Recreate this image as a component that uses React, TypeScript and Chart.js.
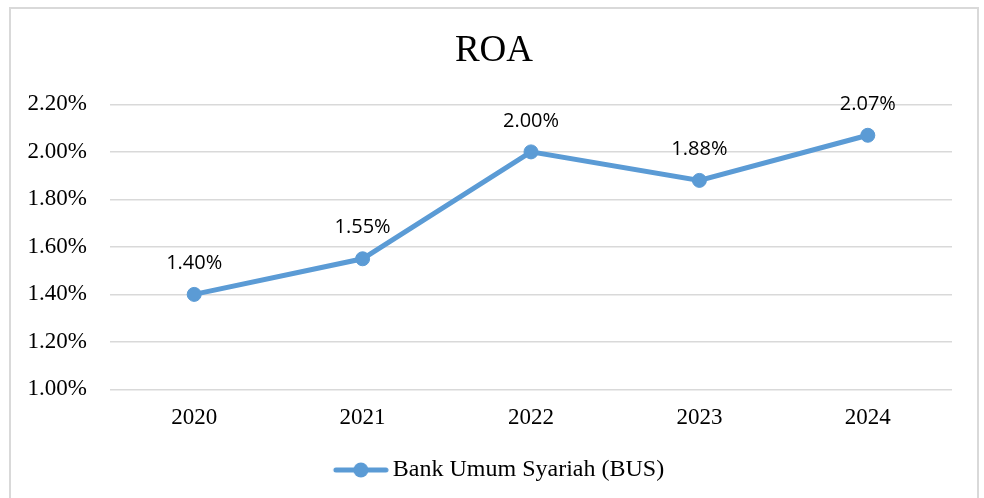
import React, { useEffect, useRef } from "react";
import { Chart, registerables } from "chart.js";

Chart.register(...registerables);

const categories = ["2020", "2021", "2022", "2023", "2024"];
const roaValues = [1.4, 1.55, 2.0, 1.88, 2.07];
const seriesName = "Bank Umum Syariah (BUS)";
const chartTitle = "ROA";
const yMin = 1.0;
const yMax = 2.2;
const yStep = 0.2;

const BLUE = "#5b9bd5";
const GRID = "#d9d9d9";
const SERIF = "'Liberation Serif', 'Times New Roman', serif";
const SANS = "'Open Sans', 'Liberation Sans', sans-serif";

function makeLegendMarker(): HTMLCanvasElement {
  const c = document.createElement("canvas");
  c.width = 73;
  c.height = 16;
  const ctx = c.getContext("2d")!;
  ctx.strokeStyle = BLUE;
  ctx.lineWidth = 5;
  ctx.lineCap = "round";
  ctx.beginPath();
  ctx.moveTo(20, 8);
  ctx.lineTo(70, 8);
  ctx.stroke();
  ctx.fillStyle = BLUE;
  ctx.beginPath();
  ctx.arc(45, 8, 7.5, 0, Math.PI * 2);
  ctx.fill();
  return c;
}

const borderPlugin = {
  id: "outerBorder",
  beforeDraw(chart: any) {
    const ctx = chart.ctx;
    ctx.save();
    ctx.fillStyle = "#ffffff";
    ctx.fillRect(0, 0, chart.width, chart.height);
    ctx.strokeStyle = GRID;
    ctx.lineWidth = 2;
    ctx.strokeRect(10, 8, 968, 510);
    ctx.restore();
  },
};

const dataLabelPlugin = {
  id: "pointLabels",
  afterDatasetsDraw(chart: any) {
    const ctx = chart.ctx;
    const meta = chart.getDatasetMeta(0);
    ctx.save();
    ctx.font = `20px ${SANS}`;
    ctx.fillStyle = "#000000";
    ctx.textAlign = "center";
    ctx.textBaseline = "middle";
    meta.data.forEach((pt: any, i: number) => {
      const v = roaValues[i];
      ctx.fillText(v.toFixed(2) + "%", pt.x, pt.y - 31);
    });
    ctx.restore();
  },
};

export default function App() {
  const ref = useRef<HTMLCanvasElement | null>(null);
  useEffect(() => {
    if (!ref.current) return;
    const marker = makeLegendMarker();
    const chart = new Chart(ref.current, {
      type: "line",
      data: {
        labels: categories,
        datasets: [
          {
            label: seriesName,
            data: roaValues,
            borderColor: BLUE,
            backgroundColor: BLUE,
            borderWidth: 5,
            pointRadius: 7,
            pointBorderWidth: 1,
            pointBackgroundColor: BLUE,
            pointBorderColor: BLUE,
            tension: 0,
            yAxisID: "y",
          },
        ],
      },
      options: {
        animation: false,
        responsive: false,
        maintainAspectRatio: false,
        layout: { padding: { left: 10, right: 6, top: 0, bottom: 6 } },
        plugins: {
          title: {
            display: true,
            text: chartTitle,
            color: "#000000",
            font: { family: SERIF, size: 37, weight: "normal" },
            padding: { top: 29, bottom: 31 },
          },
          legend: {
            display: true,
            position: "bottom",
            labels: {
              usePointStyle: true,
              pointStyle: marker as any,
              pointStyleWidth: 57,
              color: "#000000",
              font: { family: SERIF, size: 24 },
              padding: 11,
            },
          },
          tooltip: { enabled: false },
        },
        scales: {
          x: {
            offset: true,
            grid: { display: false, drawTicks: false },
            border: { display: false },
            ticks: {
              color: "#000000",
              font: { family: SERIF, size: 23 },
              padding: 15,
            },
          },
          y: {
            position: "left",
            min: yMin,
            max: yMax,
            grid: { color: GRID, lineWidth: 1.5, drawTicks: false },
            border: { display: false },
            ticks: {
              stepSize: yStep,
              color: "#000000",
              font: { family: SERIF, size: 23 },
              padding: 23,
              callback: (v: any) => Number(v).toFixed(2) + "%",
            },
            afterFit: (s: any) => {
              s.width = 100;
            },
          },
          y2: {
            position: "right",
            display: true,
            grid: { display: false, drawTicks: false },
            border: { display: false },
            ticks: { display: false },
            afterFit: (s: any) => {
              s.width = 26;
            },
          },
        },
      },
      plugins: [borderPlugin, dataLabelPlugin],
    });
    return () => chart.destroy();
  }, []);
  return (
    <div style={{ position: "fixed", left: 0, top: 0, width: 984, height: 498, background: "#fff" }}>
      <canvas ref={ref} width={984} height={498} style={{ width: 984, height: 498, display: "block" }} />
    </div>
  );
}
